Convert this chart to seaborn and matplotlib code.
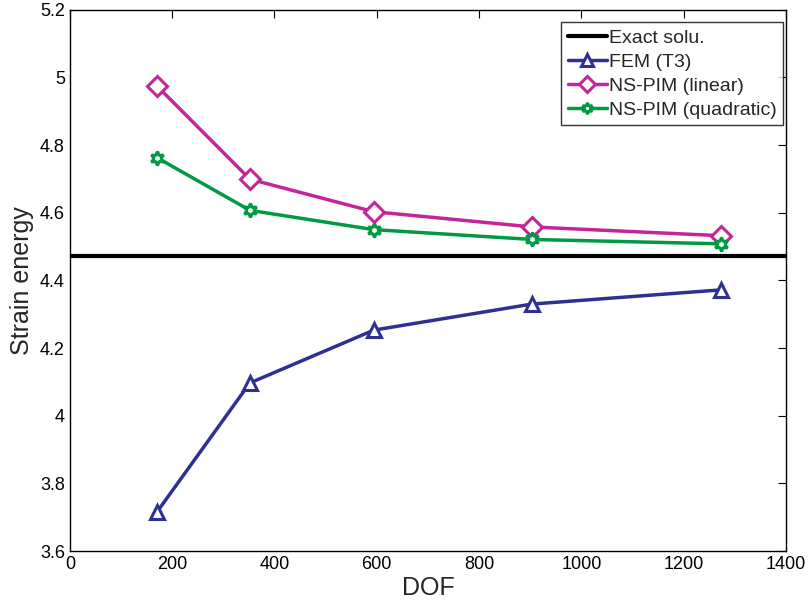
import matplotlib
matplotlib.use("Agg")
import matplotlib.pyplot as plt
import seaborn as sns
import pandas as pd

# data
dof = [170, 352, 594, 903, 1273]
fem_t3 = [3.715, 4.097, 4.253, 4.330, 4.372]
nspim_linear = [4.975, 4.699, 4.603, 4.558, 4.532]
nspim_quad = [4.763, 4.607, 4.550, 4.521, 4.508]
exact = 4.472

sns.set_style("white")
plt.rcParams['font.family'] = ['Liberation Sans', 'DejaVu Sans']

df = pd.DataFrame({
    "DOF": dof * 3,
    "value": fem_t3 + nspim_linear + nspim_quad,
    "method": ["FEM (T3)"] * 5 + ["NS-PIM (linear)"] * 5 + ["NS-PIM (quadratic)"] * 5,
})

fig, ax = plt.subplots(figsize=(8.12, 6.03), dpi=100)

ax.axhline(exact, color="black", lw=3, label="Exact solu.")

styles = {
    "FEM (T3)": ("#2e3192", "^"),
    "NS-PIM (linear)": ("#c4259a", "D"),
    "NS-PIM (quadratic)": ("#009a44", (6, 1, 0)),
}
for name, (col, mk) in styles.items():
    sub = df[df["method"] == name]
    sns.lineplot(data=sub, x="DOF", y="value", ax=ax, color=col, lw=2.5,
                 marker=mk, markersize=10, markerfacecolor="white",
                 markeredgecolor=col, markeredgewidth=2.2, label=name)

ax.set_xlim(0, 1400)
ax.set_ylim(3.6, 5.2)
ax.set_xticks(range(0, 1401, 200))
ax.set_yticks([3.6, 3.8, 4.0, 4.2, 4.4, 4.6, 4.8, 5.0, 5.2])
ax.set_yticklabels(["3.6", "3.8", "4", "4.2", "4.4", "4.6", "4.8", "5", "5.2"])
ax.tick_params(direction="in", length=6, labelsize=13, top=True, right=True,
               colors="black")
ax.set_xlabel("DOF", fontsize=18, labelpad=2)
ax.set_ylabel("Strain energy", fontsize=18, labelpad=4)
for s in ax.spines.values():
    s.set_color("black")
    s.set_linewidth(1)

leg = ax.legend(loc="upper right", bbox_to_anchor=(0.996, 0.977),
                fontsize=14, frameon=True, fancybox=False,
                edgecolor="black", borderpad=0.35, labelspacing=0.33,
                handlelength=2.0, handletextpad=0.1, borderaxespad=0,
                markerscale=0.8)
leg.get_frame().set_linewidth(1)

fig.subplots_adjust(left=0.086, right=0.968, top=0.984, bottom=0.086)
fig.savefig("out.png", dpi=100)
